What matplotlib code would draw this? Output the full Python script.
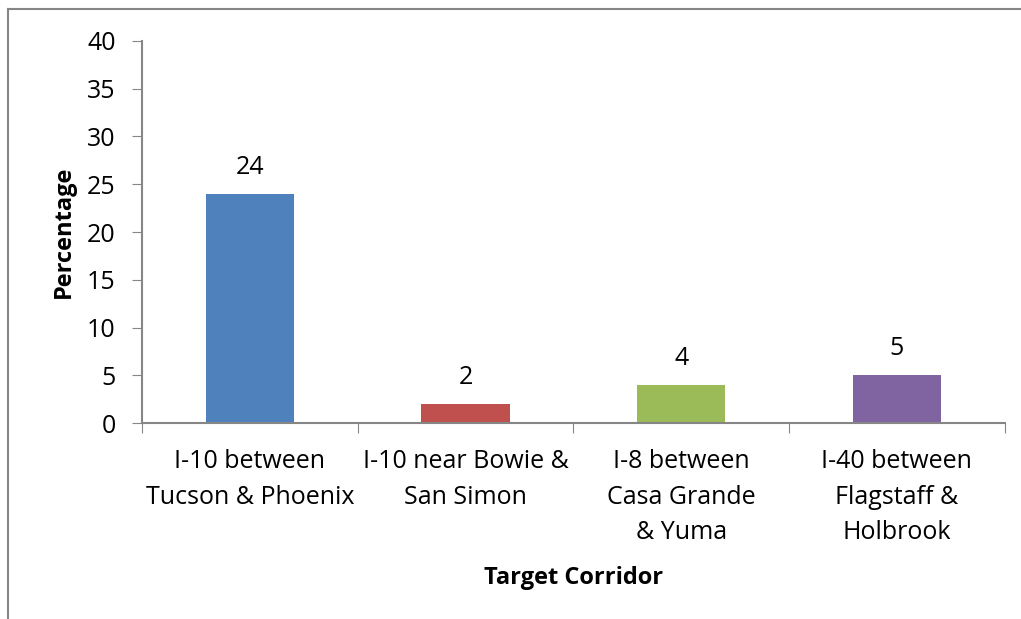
import matplotlib.pyplot as plt
from matplotlib.lines import Line2D

categories = ['I-10 between\nTucson & Phoenix', 'I-10 near Bowie &\nSan Simon',
              'I-8 between\nCasa Grande\n& Yuma', 'I-40 between\nFlagstaff &\nHolbrook']
values = [24, 2, 4, 5]
colors = ['#4F81BD', '#C0504D', '#9BBB59', '#8064A2']
yticks = [0, 5, 10, 15, 20, 25, 30, 35, 40]

plt.rcParams['font.family'] = ['Open Sans', 'DejaVu Sans']
grey = '#868686'

fig = plt.figure(figsize=(10.21, 6.19), dpi=100)
ax = fig.add_axes([0.139, 0.3166, 0.845, 0.6172])

x = range(len(values))
bars = ax.bar(x, values, width=0.41, color=colors)
for xi, v in zip(x, values):
    ax.annotate(str(v), (xi, v), xytext=(0, 10), textcoords='offset points',
                ha='center', va='bottom', fontsize=18)

ax.set_xlim(-0.5, len(values) - 0.5)
ax.set_ylim(0, 40)
ax.set_yticks(yticks)
ax.tick_params(axis='y', labelsize=18, length=7, color=grey, direction='out', pad=12)
ax.set_xticks([i - 0.5 for i in range(len(values) + 1)])
ax.set_xticklabels([])
ax.set_xticks(list(x), minor=True)
ax.set_xticklabels(categories, minor=True, fontsize=18, linespacing=1.55)
ax.tick_params(axis='x', which='major', length=7, color=grey, direction='out')
ax.tick_params(axis='x', which='minor', length=0, pad=19)
for s in ['top', 'right']:
    ax.spines[s].set_visible(False)
for s in ['left', 'bottom']:
    ax.spines[s].set_color(grey)
    ax.spines[s].set_linewidth(1.5)

ax.set_ylabel('Percentage', fontsize=17, fontweight='bold', labelpad=8)
ax.set_xlabel('Target Corridor', fontsize=17, fontweight='bold', labelpad=15)

# chart area border (only top and left visible in the crop)
fig.add_artist(Line2D([0.0078, 0.0078], [0, 0.9855], color=grey, lw=1.5, transform=fig.transFigure))
fig.add_artist(Line2D([0.0078, 1], [0.9855, 0.9855], color=grey, lw=1.5, transform=fig.transFigure))

fig.savefig('out.png', dpi=100)
